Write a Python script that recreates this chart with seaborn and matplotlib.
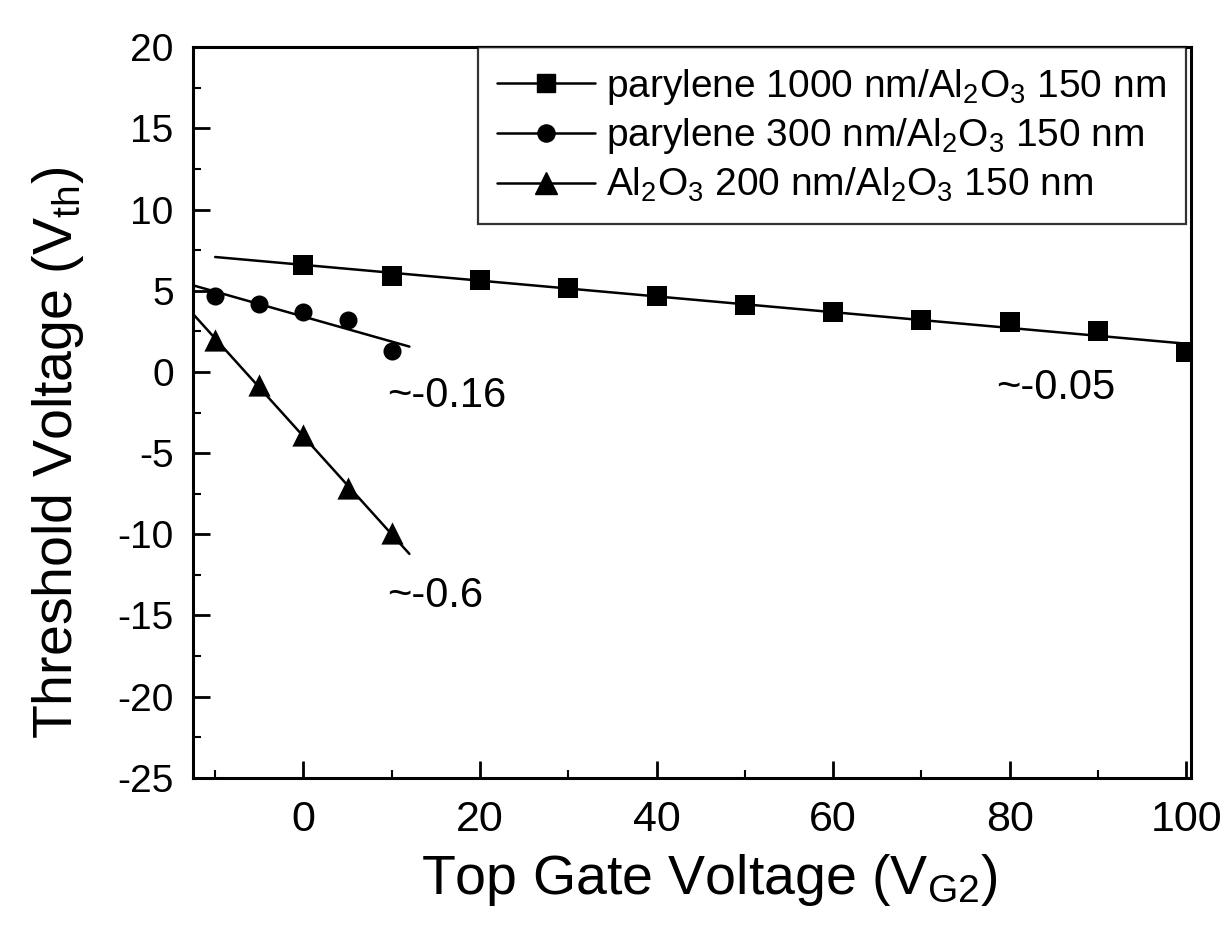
import numpy as np
import pandas as pd
import matplotlib
matplotlib.use("Agg")
import matplotlib.pyplot as plt
from matplotlib.lines import Line2D
from matplotlib.ticker import MultipleLocator
import seaborn as sns

# data
x_par1000 = [0, 10, 20, 30, 40, 50, 60, 70, 80, 90, 100]
y_par1000 = [6.6, 5.9, 5.65, 5.2, 4.7, 4.15, 3.7, 3.2, 3.05, 2.5, 1.2]

x_par300 = [-10, -5, 0, 5, 10]
y_par300 = [4.65, 4.2, 3.7, 3.2, 1.3]

x_al2o3 = [-10, -5, 0, 5, 10]
y_al2o3 = [1.95, -0.8, -3.9, -7.15, -9.95]

labels = [
    "parylene 1000 nm/Al$_2$O$_3$ 150 nm",
    "parylene 300 nm/Al$_2$O$_3$ 150 nm",
    "Al$_2$O$_3$ 200 nm/Al$_2$O$_3$ 150 nm",
]
markers = ["s", "o", "^"]
msizes = [14, 13, 16]
fit_ranges = [(-10, 100), (-12.5, 12), (-12.5, 12)]
slope_text = ["~-0.05", "~-0.16", "~-0.6"]
slope_pos = [(78.5, -1.0), (9.5, -1.5), (9.5, -13.8)]

sns.set_style("ticks")
plt.rcParams["font.family"] = ["Liberation Sans", "DejaVu Sans"]
plt.rcParams["mathtext.default"] = "regular"
plt.rcParams["axes.unicode_minus"] = False
for key in ["text.color", "axes.labelcolor", "xtick.color", "ytick.color", "axes.edgecolor"]:
    plt.rcParams[key] = "black"

fig = plt.figure(figsize=(12.3, 9.36), dpi=100)
ax = fig.add_axes([0.157, 0.169, 0.811, 0.7805])

series = [(x_par1000, y_par1000), (x_par300, y_par300), (x_al2o3, y_al2o3)]
frames = []
for (xs, ys), lab in zip(series, labels):
    frames.append(pd.DataFrame({"x": xs, "y": ys, "series": lab}))
df = pd.concat(frames, ignore_index=True)

handles = []
for i, ((xs, ys), lab) in enumerate(zip(series, labels)):
    # linear fit line
    k, b = np.polyfit(xs, ys, 1)
    xf = np.array(fit_ranges[i])
    sns.lineplot(x=xf, y=k * xf + b, ax=ax, color="black", lw=1.8, legend=False)
    sub = df[df["series"] == lab]
    sns.scatterplot(data=sub, x="x", y="y", ax=ax, marker=markers[i],
                    s=msizes[i] ** 2, color="black", edgecolor="black",
                    linewidth=0, legend=False, zorder=3)
    handles.append(Line2D([], [], color="black", lw=1.8, marker=markers[i],
                          markersize=msizes[i] * 0.95))
    ax.text(slope_pos[i][0], slope_pos[i][1], slope_text[i], fontsize=30,
            ha="left", va="center")

ax.set_xlim(-12.5, 100.5)
ax.set_ylim(-25, 20)
ax.xaxis.set_major_locator(MultipleLocator(20))
ax.xaxis.set_minor_locator(MultipleLocator(10))
ax.yaxis.set_major_locator(MultipleLocator(5))
ax.yaxis.set_minor_locator(MultipleLocator(2.5))
ax.tick_params(which="major", direction="in", length=12, width=2,
               top=False, right=False)
ax.tick_params(axis="x", which="major", labelsize=31, pad=16)
ax.tick_params(axis="y", which="major", labelsize=28, pad=14)
ax.tick_params(which="minor", direction="in", length=6, width=1.5,
               top=False, right=False)
for sp in ax.spines.values():
    sp.set_linewidth(2.2)

ax.set_xlabel("Top Gate Voltage (V$_{G2}$)", fontsize=40, va="center")
ax.set_ylabel("Threshold Voltage (V$_{th}$)", fontsize=40, va="center")
ax.xaxis.set_label_coords(0.518, -0.14)
ax.yaxis.set_label_coords(-0.135, 0.445)

leg = ax.legend(handles, labels, loc="upper right", bbox_to_anchor=(0.995, 1.0),
                fontsize=28, handlelength=2.5, handletextpad=0.3,
                labelspacing=0.25, borderpad=0.5, borderaxespad=0,
                frameon=True, fancybox=False)
leg.get_frame().set_edgecolor("black")
leg.get_frame().set_linewidth(1.6)

fig.savefig("out.png", dpi=100)
